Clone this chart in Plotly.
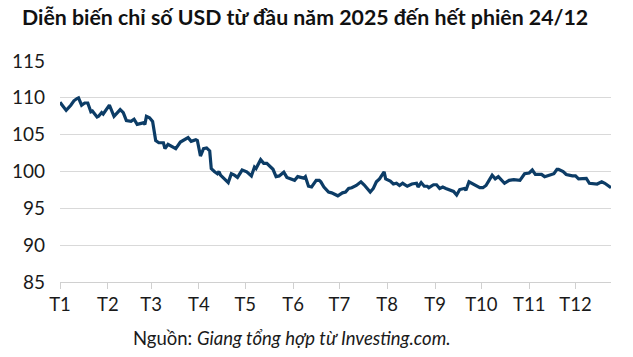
import plotly.graph_objects as go

dates = [
    "2025-01-01", "2025-01-03", "2025-01-05", "2025-01-08", "2025-01-10", "2025-01-12", "2025-01-13",
    "2025-01-15", "2025-01-17", "2025-01-19", "2025-01-21", "2025-01-22", "2025-01-25", "2025-01-26",
    "2025-01-28", "2025-01-29", "2025-02-02", "2025-02-05", "2025-02-09", "2025-02-11", "2025-02-13",
    "2025-02-16", "2025-02-18", "2025-02-20", "2025-02-24", "2025-02-25", "2025-02-26", "2025-02-28",
    "2025-03-02", "2025-03-04", "2025-03-06", "2025-03-09", "2025-03-10", "2025-03-12", "2025-03-14",
    "2025-03-17", "2025-03-20", "2025-03-23", "2025-03-25", "2025-03-27", "2025-03-30", "2025-03-31",
    "2025-04-02", "2025-04-04", "2025-04-06", "2025-04-08", "2025-04-09", "2025-04-11", "2025-04-13",
    "2025-04-14", "2025-04-15", "2025-04-20", "2025-04-22", "2025-04-24", "2025-04-26", "2025-04-29",
    "2025-05-02", "2025-05-05", "2025-05-07", "2025-05-08", "2025-05-11", "2025-05-13", "2025-05-15",
    "2025-05-19", "2025-05-21", "2025-05-23", "2025-05-26", "2025-05-28", "2025-06-02", "2025-06-04",
    "2025-06-06", "2025-06-08", "2025-06-09", "2025-06-11", "2025-06-13", "2025-06-16", "2025-06-18",
    "2025-06-19", "2025-06-21", "2025-06-24", "2025-06-26", "2025-06-30", "2025-07-03", "2025-07-05",
    "2025-07-07", "2025-07-09", "2025-07-12", "2025-07-15", "2025-07-17", "2025-07-19", "2025-07-21",
    "2025-07-23", "2025-07-25", "2025-07-27", "2025-07-30", "2025-07-31", "2025-08-03", "2025-08-05",
    "2025-08-07", "2025-08-09", "2025-08-11", "2025-08-14", "2025-08-17", "2025-08-20", "2025-08-21",
    "2025-08-23", "2025-08-25", "2025-08-27", "2025-08-28", "2025-08-31", "2025-09-02", "2025-09-04",
    "2025-09-06", "2025-09-08", "2025-09-11", "2025-09-13", "2025-09-15", "2025-09-17", "2025-09-20",
    "2025-09-21", "2025-09-23", "2025-09-27", "2025-09-30", "2025-10-02", "2025-10-04", "2025-10-06",
    "2025-10-08", "2025-10-10", "2025-10-12", "2025-10-16", "2025-10-19", "2025-10-22", "2025-10-26",
    "2025-10-29", "2025-11-01", "2025-11-03", "2025-11-05", "2025-11-09", "2025-11-11", "2025-11-14",
    "2025-11-17", "2025-11-19", "2025-11-20", "2025-11-23", "2025-11-25", "2025-11-29", "2025-12-01",
    "2025-12-03", "2025-12-05", "2025-12-08", "2025-12-10", "2025-12-13", "2025-12-15", "2025-12-18",
    "2025-12-20", "2025-12-24",
]

usd_index = [
    109.4, 108.9, 108.3, 109.0, 109.6, 109.9, 110.0,
    109.0, 109.3, 109.3, 108.1, 108.2, 107.4, 107.5,
    108.0, 107.8, 109.0, 107.5, 108.4, 108.0, 106.9,
    106.8, 107.1, 106.4, 106.6, 106.4, 107.5, 107.3,
    106.8, 104.2, 103.9, 103.9, 103.1, 103.7, 103.5,
    103.1, 104.0, 104.3, 104.6, 104.1, 104.3, 104.2,
    102.1, 103.1, 103.2, 102.8, 100.4, 100.0, 99.7,
    100.0, 99.5, 98.5, 99.7, 99.5, 99.2, 100.2,
    99.95, 99.4, 100.6, 100.4, 101.6, 101.1, 101.1,
    100.3, 99.3, 99.4, 99.9, 99.2, 98.8, 99.3,
    99.2, 99.1, 99.3, 98.0, 97.9, 98.8, 98.8,
    98.6, 97.9, 97.2, 97.1, 96.7, 97.1, 97.2,
    97.7, 97.8, 98.1, 98.6, 98.2, 97.7, 97.2,
    97.7, 98.6, 99.0, 99.95, 99.0, 98.7, 98.3,
    98.4, 98.1, 98.4, 98.0, 98.3, 98.4, 97.9,
    98.5, 98.0, 98.0, 97.8, 98.2, 98.2, 97.7,
    97.9, 97.7, 97.45, 97.3, 96.8, 97.55, 97.7,
    97.45, 98.6, 98.1, 97.8, 97.8, 98.1, 98.8,
    99.5, 99.0, 99.3, 98.4, 98.8, 98.9, 98.8,
    99.7, 99.8, 100.2, 99.6, 99.6, 99.3, 99.5,
    99.7, 100.3, 100.3, 100.0, 99.6, 99.4, 99.4,
    99.0, 99.05, 99.05, 98.4, 98.3, 98.3, 98.6,
    98.4, 97.8,
]

month_ticks = ["2025-01-01", "2025-02-01", "2025-03-01", "2025-04-01", "2025-05-01", "2025-06-01",
               "2025-07-01", "2025-08-01", "2025-09-01", "2025-10-01", "2025-11-01", "2025-12-01"]
month_labels = ["T1", "T2", "T3", "T4", "T5", "T6", "T7", "T8", "T9", "T10", "T11", "T12"]
y_ticks = [85, 90, 95, 100, 105, 110, 115]

title_text = "Diễn biến chỉ số USD từ đầu năm 2025 đến hết phiên 24/12"
source_text = "Nguồn: <i>Giang tổng hợp từ Investing.com.</i>"

fig = go.Figure()
fig.add_trace(go.Scatter(
    x=dates, y=usd_index, mode="lines",
    line=dict(color="#0c3c66", width=3.2),
    showlegend=False, hoverinfo="x+y",
))

fig.update_layout(
    width=633, height=357,
    margin=dict(l=57, r=22, t=61, b=75),
    paper_bgcolor="white", plot_bgcolor="white",
    font=dict(family="Lato, Carlito, sans-serif", color="#1a1a1a", size=18),
    title=dict(text="<b>" + title_text + "</b>", x=22 / 633, xanchor="left",
               y=1 - 18 / 357, yanchor="middle",
               font=dict(size=21.3, color="#111111", family="Lato, sans-serif")),
    annotations=[dict(
        text=source_text, xref="paper", yref="paper", x=0.4217, y=-0.253,
        xanchor="center", yanchor="middle", showarrow=False,
        font=dict(size=18.5, color="#1a1a1a", family="Lato, sans-serif"),
    )],
)

fig.update_xaxes(
    type="date", range=["2025-01-01", "2025-12-24"],
    tickmode="array", tickvals=month_ticks, ticktext=month_labels,
    showgrid=False, showline=True, linecolor="#d0d0d0", linewidth=1,
    ticks="outside", ticklen=6, tickcolor="#d0d0d0", tickwidth=1,
    tickfont=dict(size=18.5, color="#1a1a1a"), zeroline=False,
)
fig.update_yaxes(
    range=[85, 115], tickmode="array", tickvals=y_ticks,
    showgrid=True, gridcolor="#d9d9d9", gridwidth=1,
    showline=False, zeroline=False, ticks="", ticklabelstandoff=14,
    tickfont=dict(size=19, color="#1a1a1a"),
)

fig.write_html("out.html", config={"displayModeBar": False},
               post_script="document.body.style.margin='0px';")
